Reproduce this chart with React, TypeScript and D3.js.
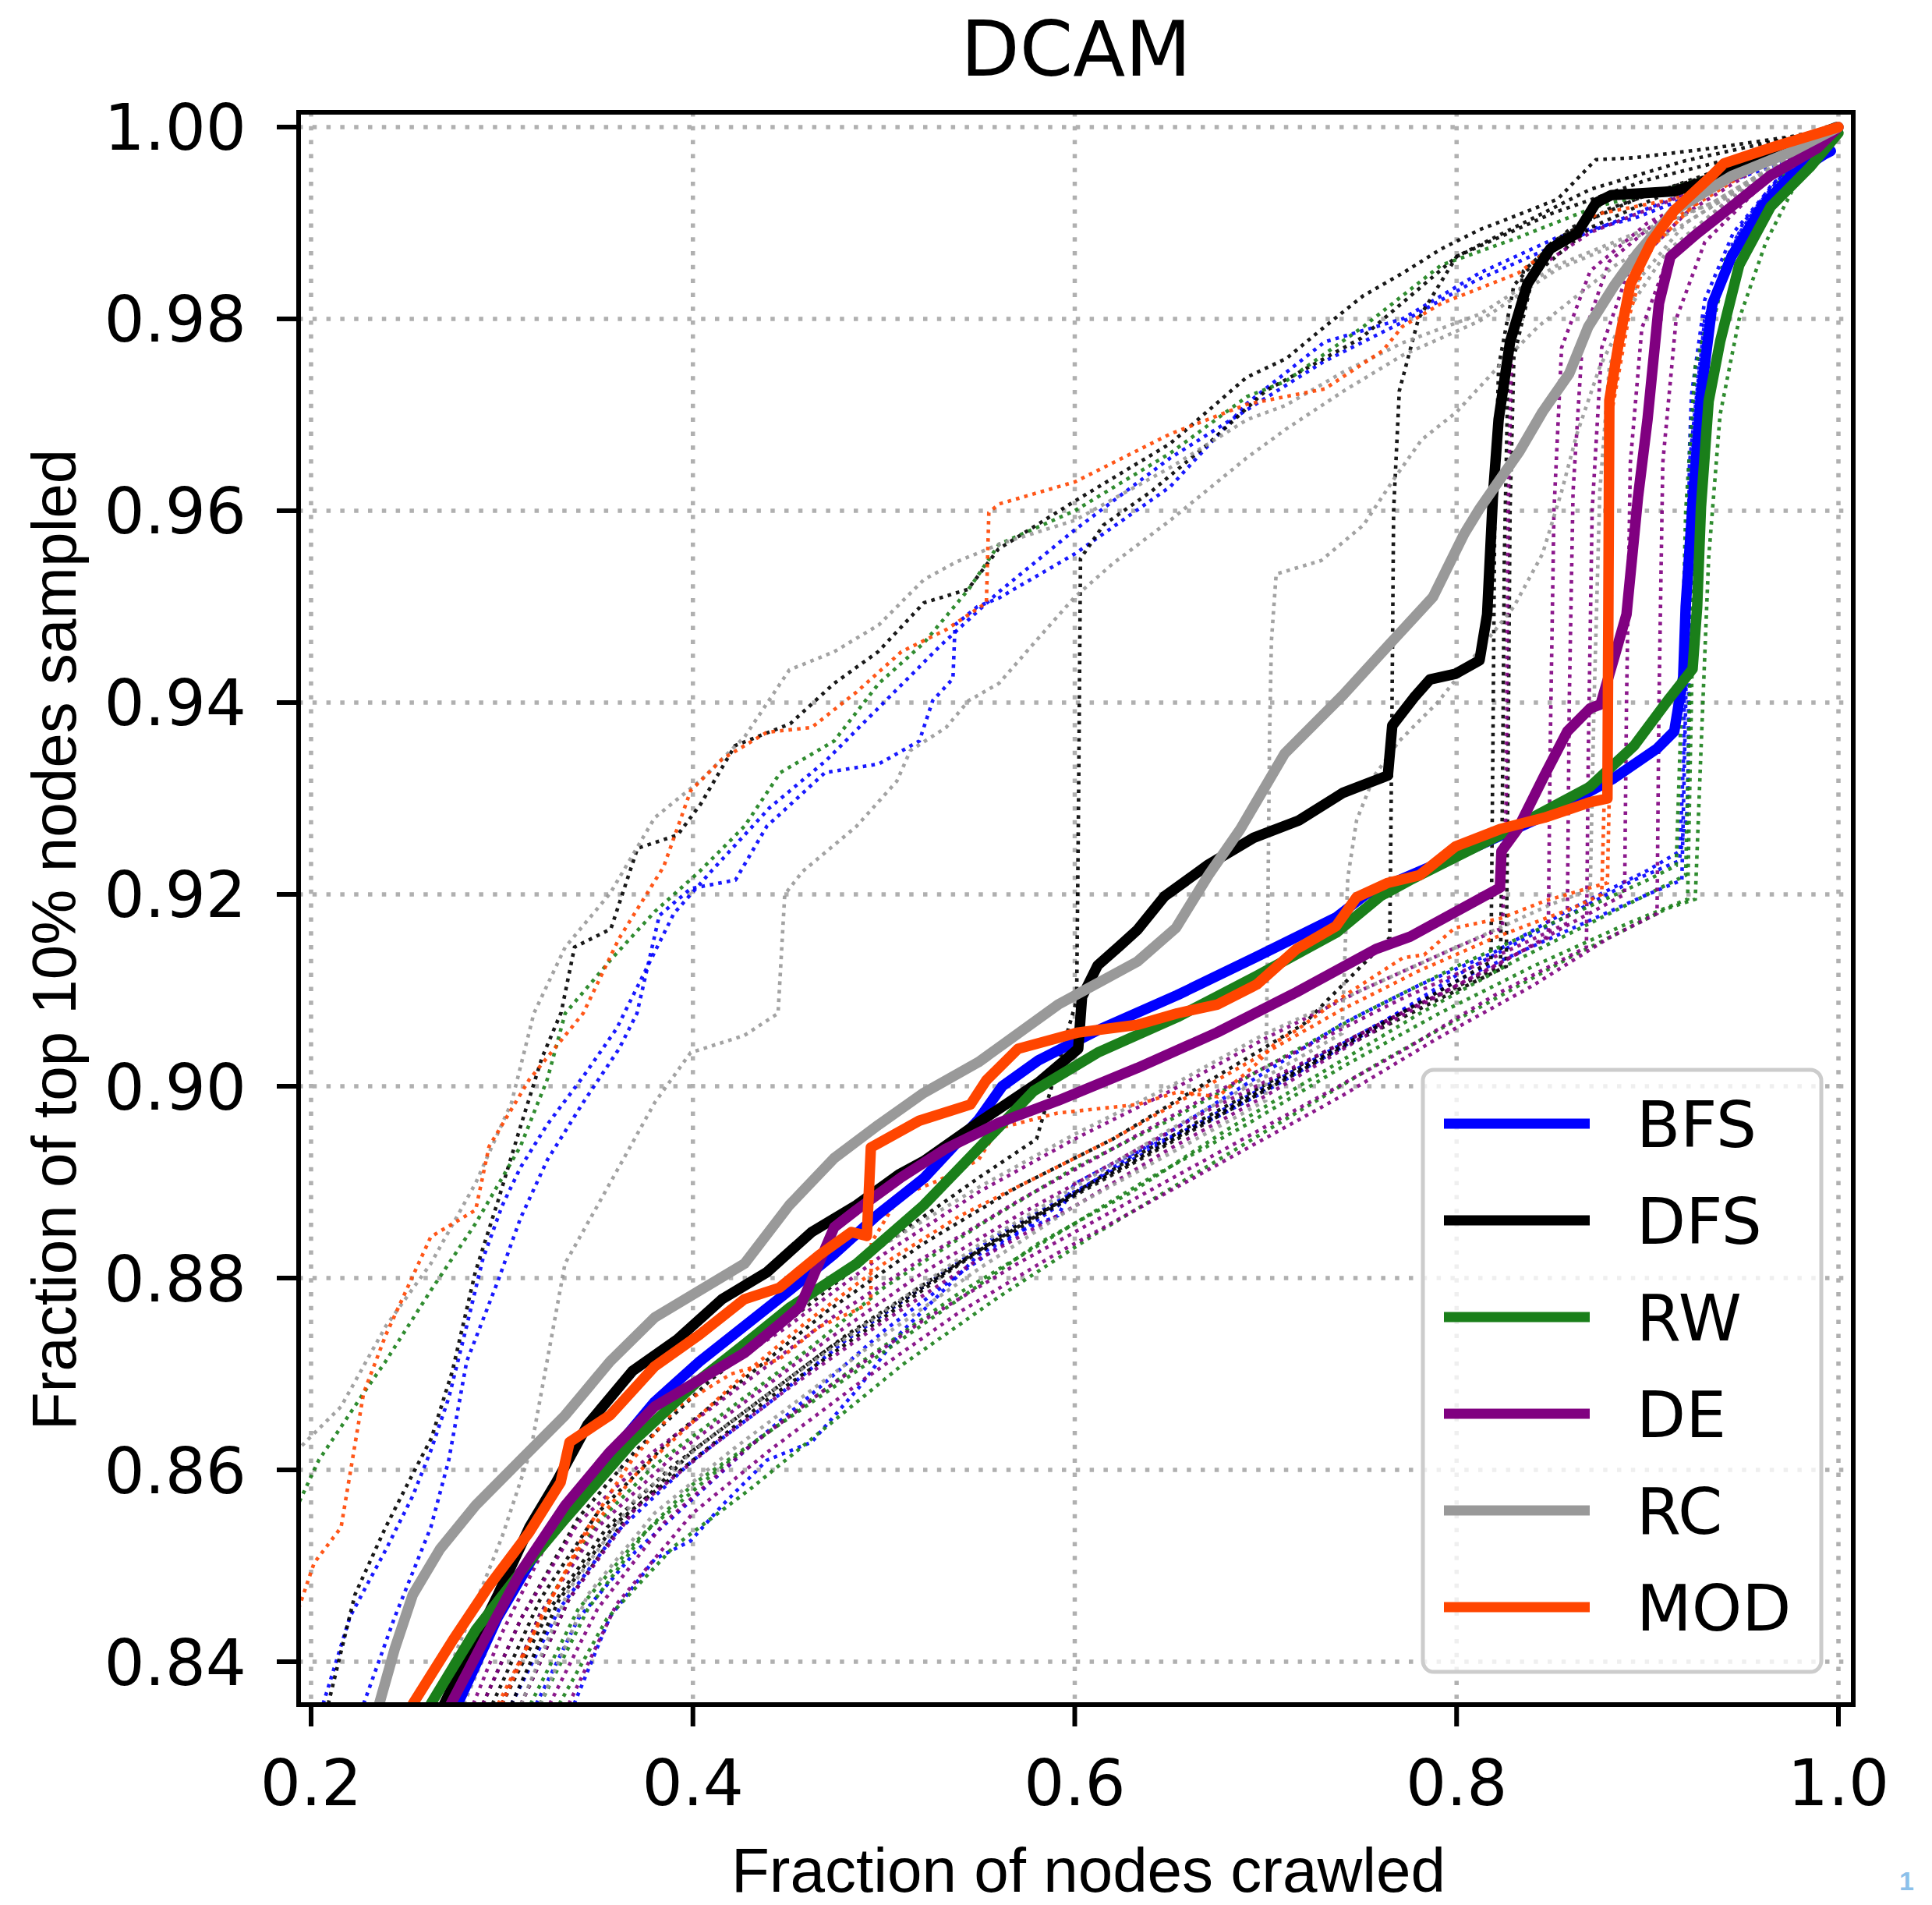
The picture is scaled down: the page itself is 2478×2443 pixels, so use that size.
import React, { useEffect } from 'react';
import * as d3 from 'd3';

type Pt = [number, number];

// ---------- axis / label data ----------
const xTicks: number[] = [0.2, 0.4, 0.6, 0.8, 1.0];
const xTickLabels: string[] = ['0.2', '0.4', '0.6', '0.8', '1.0'];
const yTicks: number[] = [0.84, 0.86, 0.88, 0.9, 0.92, 0.94, 0.96, 0.98, 1.0];
const yTickLabels: string[] = ['0.84', '0.86', '0.88', '0.90', '0.92', '0.94', '0.96', '0.98', '1.00'];
const methods: string[] = ['BFS', 'DFS', 'RW', 'DE', 'RC', 'MOD'];
const methodColors: string[] = ['#0000ff', '#000000', '#1a7f1a', '#800080', '#999999', '#ff4500'];
const titleText = 'DCAM';
const xLabel = 'Fraction of nodes crawled';
const yLabel = 'Fraction of top 10% nodes sampled';

// ---------- mean (thick) curves ----------
const bfsMain: Pt[] = [[0.2768,0.8356],[0.2979,0.8447],[0.3214,0.8526],[0.3448,0.8587],[0.38,0.8671],[0.4035,0.8713],[0.427,0.875],[0.4505,0.8787],[0.474,0.8825],[0.4974,0.8867],[0.5209,0.8904],[0.5495,0.8965],[0.5620,0.9000],[0.581,0.9027],[0.6116,0.9058],[0.6537,0.9095],[0.6953,0.9135],[0.7369,0.9176],[0.7525,0.9200],[0.7994,0.924],[0.846,0.9282],[0.8815,0.932],[0.905,0.9352],[0.914,0.937],[0.9187,0.9427],[0.920,0.95],[0.9235,0.9604],[0.928,0.972],[0.934,0.9816],[0.944,0.9865],[0.96,0.9917],[0.975,0.9949],[0.993,0.9972],[0.996,0.9975]];
const dfsMain: Pt[] = [[0.2697,0.8356],[0.2862,0.8423],[0.2979,0.847],[0.3143,0.854],[0.3284,0.8587],[0.3448,0.8647],[0.3683,0.8703],[0.3918,0.8736],[0.4153,0.8778],[0.4387,0.8806],[0.4622,0.8848],[0.4857,0.8876],[0.5079,0.8908],[0.5209,0.8922],[0.5495,0.8962],[0.581,0.9004],[0.6018,0.9039],[0.6038,0.9093],[0.612,0.9126],[0.6234,0.9146],[0.6328,0.9163],[0.647,0.9198],[0.670,0.9231],[0.6937,0.9259],[0.7173,0.9277],[0.7406,0.9306],[0.764,0.9324],[0.7663,0.9376],[0.7776,0.9405],[0.786,0.9424],[0.7994,0.943],[0.812,0.9444],[0.816,0.9492],[0.819,0.9614],[0.822,0.9695],[0.828,0.9776],[0.837,0.9836],[0.849,0.9873],[0.863,0.9889],[0.873,0.9921],[0.881,0.9929],[0.914,0.9933],[0.930,0.9943],[0.944,0.9958],[0.999,1.0]];
const rwMain: Pt[] = [[0.2627,0.8356],[0.2862,0.8433],[0.3096,0.8493],[0.3331,0.8549],[0.3683,0.8629],[0.4035,0.8694],[0.427,0.8731],[0.4505,0.8769],[0.4857,0.8815],[0.5209,0.8876],[0.5495,0.8935],[0.5785,0.8995],[0.612,0.9035],[0.6537,0.9072],[0.6953,0.9115],[0.7369,0.916],[0.7600,0.9198],[0.7757,0.9215],[0.8227,0.9262],[0.8697,0.9312],[0.893,0.9355],[0.9117,0.9405],[0.9236,0.9435],[0.926,0.950],[0.928,0.9604],[0.932,0.9714],[0.938,0.9776],[0.948,0.9856],[0.9645,0.9917],[0.985,0.9958],[1.0,0.9994]];
const deMain: Pt[] = [[0.2732,0.8356],[0.2908,0.8423],[0.3096,0.8493],[0.3331,0.8563],[0.3566,0.8619],[0.38,0.8666],[0.4035,0.8694],[0.427,0.8722],[0.4454,0.8752],[0.456,0.877],[0.462,0.8797],[0.474,0.8853],[0.4857,0.8871],[0.5091,0.8905],[0.5326,0.8935],[0.5603,0.8962],[0.5912,0.8985],[0.6328,0.9019],[0.6745,0.9056],[0.7161,0.9098],[0.7577,0.9143],[0.7757,0.9156],[0.8227,0.9207],[0.8235,0.9245],[0.832,0.9268],[0.846,0.9324],[0.858,0.937],[0.870,0.9394],[0.8754,0.9398],[0.883,0.945],[0.889,0.9492],[0.895,0.9614],[0.900,0.9695],[0.906,0.9816],[0.912,0.9865],[0.926,0.9889],[0.944,0.9917],[0.964,0.9949],[0.989,0.9978],[1.0,1.0]];
const rcMain: Pt[] = [[0.2357,0.8356],[0.2439,0.8414],[0.2533,0.847],[0.2674,0.8517],[0.2862,0.8563],[0.3096,0.861],[0.3331,0.8657],[0.3566,0.8713],[0.38,0.8759],[0.4035,0.8787],[0.427,0.8815],[0.4505,0.8876],[0.474,0.8925],[0.4974,0.896],[0.5209,0.8993],[0.5495,0.9025],[0.5912,0.9085],[0.6328,0.913],[0.6530,0.9165],[0.670,0.922],[0.6867,0.9268],[0.710,0.9347],[0.7406,0.9408],[0.7663,0.9464],[0.7876,0.951],[0.804,0.9576],[0.812,0.9602],[0.833,0.9662],[0.845,0.9703],[0.859,0.9743],[0.869,0.9792],[0.883,0.9836],[0.895,0.9869],[0.914,0.9913],[0.944,0.9949],[0.975,0.9974],[1.0,1.0]];
const modMain: Pt[] = [[0.2533,0.8356],[0.2744,0.8423],[0.2932,0.8479],[0.3143,0.8535],[0.3307,0.8587],[0.3354,0.8629],[0.3566,0.8657],[0.38,0.8708],[0.4035,0.8741],[0.427,0.8778],[0.4454,0.879],[0.4662,0.8824],[0.483,0.8848],[0.4911,0.8844],[0.4932,0.8936],[0.5185,0.8964],[0.5454,0.8981],[0.5536,0.9006],[0.5703,0.9039],[0.6018,0.9056],[0.6328,0.9064],[0.6537,0.9076],[0.6745,0.9085],[0.6953,0.9106],[0.7161,0.9143],[0.7369,0.9167],[0.7476,0.9197],[0.764,0.9212],[0.7806,0.922],[0.7994,0.925],[0.8227,0.9268],[0.846,0.928],[0.8697,0.9296],[0.879,0.930],[0.8795,0.95],[0.880,0.9715],[0.885,0.9776],[0.891,0.9836],[0.902,0.988],[0.914,0.9913],[0.934,0.995],[0.94,0.9962],[0.964,0.9978],[1.0,1.0]];

// ---------- individual (dotted) runs ----------
const bfsRuns: Pt[][] = [
  [[0.2275,0.8356],[0.2439,0.8447],[0.2627,0.854],[0.2721,0.861],[0.2815,0.8713],[0.2979,0.8797],[0.3096,0.8862],[0.3237,0.8923],[0.3425,0.8983],[0.3613,0.9039],[0.3707,0.9076],[0.3824,0.9178],[0.3988,0.9206],[0.4223,0.9215],[0.4387,0.9271],[0.4692,0.9327],[0.4974,0.9336],[0.5186,0.936],[0.5256,0.9402],[0.5362,0.9425],[0.5373,0.9481],[0.549,0.95],[0.5603,0.9509],[0.60,0.9555],[0.65,0.9625],[0.6903,0.9712],[0.7309,0.9776],[0.7716,0.98],[0.8122,0.9848],[0.8528,0.9885],[0.8934,0.9905],[0.934,0.9937],[0.9747,0.9966],[1,1]],
  [[0.2063,0.8356],[0.2204,0.8447],[0.2392,0.8517],[0.2533,0.8573],[0.2627,0.862],[0.2721,0.8675],[0.2815,0.875],[0.29,0.882],[0.30,0.8875],[0.3096,0.8915],[0.3237,0.896],[0.3425,0.901],[0.36,0.906],[0.375,0.912],[0.39,0.918],[0.41,0.9225],[0.44,0.929],[0.47,0.934],[0.50,0.94],[0.53,0.946],[0.56,0.9515],[0.6,0.958],[0.65,0.9655],[0.69,0.9705],[0.73,0.9755],[0.77,0.9795],[0.81,0.984],[0.85,0.9875],[0.9,0.9915],[0.95,0.9955],[1,1]],
  [[0.305,0.8356],[0.33,0.8455],[0.36,0.8535],[0.40,0.861],[0.44,0.867],[0.48,0.8735],[0.52,0.879],[0.56,0.8845],[0.60,0.889],[0.65,0.8945],[0.70,0.90],[0.75,0.9055],[0.80,0.911],[0.85,0.9155],[0.90,0.920],[0.918,0.9215],[0.92,0.94],[0.922,0.965],[0.93,0.98],[0.95,0.99],[0.975,0.996],[1,1]],
  [[0.3378,0.8356],[0.3566,0.8447],[0.38,0.8507],[0.3988,0.8526],[0.4153,0.8563],[0.4387,0.861],[0.4622,0.8629],[0.487,0.8686],[0.5079,0.8741],[0.5287,0.8782],[0.5495,0.8824],[0.5703,0.8848],[0.5912,0.8865],[0.5997,0.8898],[0.612,0.8911],[0.6328,0.8932],[0.6745,0.8968],[0.70,0.8995],[0.7525,0.9055],[0.7994,0.9115],[0.846,0.9165],[0.893,0.9215],[0.9166,0.9235],[0.921,0.929],[0.922,0.95],[0.924,0.97],[0.93,0.98],[0.945,0.988],[0.965,0.994],[0.99,0.998],[1,1]],
  [[0.318,0.8356],[0.34,0.8445],[0.37,0.8515],[0.40,0.857],[0.43,0.8625],[0.46,0.8675],[0.50,0.8745],[0.54,0.8805],[0.58,0.886],[0.62,0.8915],[0.66,0.8965],[0.70,0.9015],[0.74,0.9065],[0.78,0.9105],[0.82,0.914],[0.86,0.9185],[0.90,0.9225],[0.917,0.9245],[0.919,0.935],[0.92,0.955],[0.923,0.972],[0.93,0.982],[0.945,0.989],[0.97,0.995],[1,1]],
];
const dfsRuns: Pt[][] = [
  [[0.209,0.8356],[0.223,0.847],[0.239,0.854],[0.251,0.8587],[0.263,0.8633],[0.274,0.8703],[0.286,0.8806],[0.298,0.8881],[0.31,0.896],[0.321,0.903],[0.331,0.9077],[0.338,0.9145],[0.357,0.9164],[0.371,0.9248],[0.392,0.9262],[0.404,0.9294],[0.422,0.9355],[0.451,0.9378],[0.474,0.942],[0.497,0.9453],[0.521,0.9504],[0.544,0.9518],[0.56,0.956],[0.6,0.961],[0.65,0.967],[0.69,0.9739],[0.711,0.9759],[0.731,0.9792],[0.751,0.9824],[0.772,0.9848],[0.792,0.9873],[0.812,0.9893],[0.833,0.9909],[0.853,0.9925],[0.869,0.9958],[0.873,0.9966],[0.893,0.9968],[0.934,0.9978],[0.975,0.999],[1,1]],
  [[0.29,0.8356],[0.31,0.8445],[0.34,0.855],[0.37,0.862],[0.41,0.8695],[0.45,0.8755],[0.50,0.8835],[0.55,0.8905],[0.58,0.8945],[0.601,0.909],[0.602,0.93],[0.603,0.955],[0.615,0.9585],[0.64,0.962],[0.67,0.967],[0.70,0.9725],[0.75,0.978],[0.80,0.9865],[0.85,0.991],[0.90,0.9945],[0.95,0.997],[1,1]],
  [[0.295,0.8356],[0.32,0.8465],[0.35,0.8555],[0.39,0.8635],[0.43,0.870],[0.47,0.8765],[0.52,0.8835],[0.57,0.8895],[0.62,0.8945],[0.67,0.9005],[0.72,0.9065],[0.765,0.9155],[0.766,0.935],[0.767,0.96],[0.77,0.9725],[0.78,0.98],[0.80,0.9865],[0.83,0.9895],[0.87,0.9935],[0.92,0.9965],[1,1]],
  [[0.30,0.8356],[0.325,0.8455],[0.355,0.854],[0.39,0.8605],[0.43,0.8665],[0.47,0.8725],[0.52,0.879],[0.57,0.8855],[0.62,0.891],[0.67,0.8965],[0.72,0.902],[0.77,0.9075],[0.818,0.913],[0.819,0.935],[0.82,0.96],[0.822,0.975],[0.83,0.9835],[0.85,0.988],[0.88,0.9915],[0.93,0.995],[1,1]],
  [[0.31,0.8356],[0.335,0.8465],[0.365,0.855],[0.40,0.862],[0.44,0.868],[0.48,0.874],[0.53,0.8805],[0.58,0.8865],[0.63,0.8925],[0.68,0.898],[0.73,0.9035],[0.78,0.9085],[0.823,0.9125],[0.824,0.93],[0.825,0.955],[0.827,0.975],[0.835,0.985],[0.86,0.9895],[0.90,0.993],[0.95,0.996],[1,1]],
  [[0.305,0.8356],[0.33,0.8465],[0.36,0.8545],[0.40,0.861],[0.44,0.8675],[0.49,0.8745],[0.54,0.8815],[0.59,0.8875],[0.64,0.893],[0.69,0.8985],[0.74,0.904],[0.79,0.909],[0.826,0.9125],[0.827,0.935],[0.828,0.96],[0.83,0.976],[0.84,0.9845],[0.87,0.9895],[0.92,0.994],[1,1]],
];
const rwRuns: Pt[][] = [
  [[0.192,0.8559],[0.204,0.861],[0.2275,0.868],[0.239,0.8713],[0.2627,0.8787],[0.2862,0.8857],[0.3096,0.8937],[0.3237,0.9007],[0.3331,0.9076],[0.3566,0.9131],[0.38,0.9182],[0.4035,0.9224],[0.427,0.9271],[0.4458,0.9327],[0.474,0.936],[0.4974,0.942],[0.5209,0.9462],[0.5444,0.9518],[0.5603,0.9565],[0.6,0.96],[0.65,0.966],[0.6903,0.9719],[0.7106,0.9735],[0.7512,0.9792],[0.7919,0.9856],[0.8325,0.9885],[0.8731,0.9917],[0.9138,0.9937],[0.9544,0.9962],[1,1]],
  [[0.30,0.8356],[0.32,0.845],[0.35,0.8545],[0.38,0.8605],[0.42,0.8665],[0.46,0.8725],[0.50,0.879],[0.55,0.8855],[0.60,0.8915],[0.65,0.8965],[0.70,0.902],[0.75,0.9075],[0.80,0.9125],[0.85,0.917],[0.90,0.9215],[0.915,0.923],[0.917,0.935],[0.92,0.96],[0.925,0.975],[0.94,0.986],[0.96,0.992],[0.98,0.997],[1,1]],
  [[0.315,0.8356],[0.34,0.8455],[0.37,0.8525],[0.40,0.8585],[0.44,0.864],[0.48,0.8695],[0.53,0.8765],[0.58,0.8835],[0.63,0.889],[0.68,0.8955],[0.73,0.9015],[0.78,0.9075],[0.83,0.913],[0.88,0.918],[0.92,0.922],[0.922,0.94],[0.924,0.965],[0.93,0.978],[0.945,0.987],[0.97,0.994],[1,1]],
  [[0.33,0.8356],[0.355,0.8445],[0.39,0.852],[0.43,0.858],[0.47,0.8645],[0.51,0.871],[0.56,0.878],[0.61,0.8845],[0.66,0.8905],[0.71,0.8965],[0.76,0.9025],[0.81,0.908],[0.86,0.9135],[0.91,0.9185],[0.925,0.9195],[0.928,0.935],[0.932,0.955],[0.938,0.97],[0.948,0.98],[0.962,0.988],[0.98,0.995],[1,1]],
  [[0.32,0.8356],[0.345,0.8455],[0.375,0.8535],[0.41,0.8595],[0.45,0.8655],[0.49,0.8715],[0.54,0.8785],[0.59,0.8845],[0.64,0.8905],[0.69,0.896],[0.74,0.902],[0.79,0.9075],[0.84,0.9125],[0.89,0.917],[0.921,0.9195],[0.923,0.94],[0.925,0.962],[0.93,0.976],[0.942,0.986],[0.965,0.993],[1,1]],
];
const deRuns: Pt[][] = [
  [[0.285,0.8356],[0.30,0.843],[0.33,0.855],[0.36,0.8625],[0.40,0.8685],[0.45,0.875],[0.50,0.8825],[0.55,0.889],[0.60,0.8945],[0.65,0.8995],[0.70,0.905],[0.75,0.910],[0.80,0.9145],[0.824,0.9165],[0.826,0.93],[0.827,0.96],[0.829,0.978],[0.84,0.985],[0.87,0.989],[0.92,0.993],[0.96,0.996],[1,1]],
  [[0.31,0.8356],[0.335,0.8465],[0.37,0.856],[0.41,0.8625],[0.45,0.8685],[0.50,0.8755],[0.55,0.882],[0.60,0.8875],[0.65,0.8935],[0.70,0.899],[0.75,0.905],[0.80,0.9105],[0.848,0.9155],[0.849,0.935],[0.851,0.96],[0.855,0.977],[0.87,0.985],[0.90,0.99],[0.95,0.995],[1,1]],
  [[0.325,0.8356],[0.35,0.8455],[0.385,0.8545],[0.43,0.8625],[0.47,0.8685],[0.52,0.8755],[0.57,0.8815],[0.62,0.887],[0.67,0.8925],[0.72,0.898],[0.77,0.9035],[0.82,0.9095],[0.868,0.9145],[0.869,0.935],[0.871,0.96],[0.876,0.977],[0.89,0.985],[0.92,0.991],[0.96,0.996],[1,1]],
  [[0.335,0.8356],[0.36,0.846],[0.40,0.8555],[0.44,0.862],[0.49,0.8695],[0.54,0.8765],[0.59,0.8825],[0.64,0.888],[0.69,0.8935],[0.74,0.899],[0.79,0.905],[0.84,0.9105],[0.88,0.9155],[0.905,0.918],[0.906,0.94],[0.908,0.965],[0.915,0.98],[0.93,0.988],[0.96,0.994],[1,1]],
  [[0.30,0.8356],[0.32,0.845],[0.35,0.854],[0.39,0.8615],[0.43,0.8675],[0.47,0.8735],[0.52,0.8805],[0.57,0.8865],[0.62,0.892],[0.67,0.8975],[0.72,0.9025],[0.77,0.9075],[0.82,0.9125],[0.86,0.917],[0.888,0.92],[0.889,0.94],[0.891,0.965],[0.897,0.979],[0.91,0.986],[0.94,0.992],[0.97,0.996],[1,1]],
  [[0.29,0.8356],[0.31,0.8445],[0.34,0.8545],[0.38,0.862],[0.42,0.868],[0.47,0.8755],[0.52,0.882],[0.57,0.888],[0.62,0.8935],[0.67,0.899],[0.72,0.904],[0.77,0.909],[0.82,0.9135],[0.858,0.917],[0.859,0.94],[0.861,0.962],[0.866,0.978],[0.88,0.986],[0.91,0.991],[0.95,0.995],[1,1]],
];
const rcRuns: Pt[][] = [
  [[0.192,0.8619],[0.2157,0.8666],[0.2392,0.875],[0.2627,0.8815],[0.2862,0.8899],[0.305,0.8983],[0.3167,0.9076],[0.3331,0.9145],[0.3566,0.9201],[0.38,0.928],[0.4035,0.9318],[0.427,0.9364],[0.4505,0.9434],[0.474,0.9453],[0.4974,0.9481],[0.5209,0.9528],[0.5373,0.9546],[0.5603,0.9565],[0.6,0.959],[0.65,0.9645],[0.6903,0.9695],[0.7106,0.971],[0.741,0.9745],[0.7716,0.9775],[0.8122,0.9805],[0.8528,0.9856],[0.8934,0.9889],[0.934,0.9921],[1,1]],
  [[0.265,0.8356],[0.28,0.843],[0.30,0.853],[0.315,0.862],[0.333,0.8815],[0.3566,0.8899],[0.38,0.8983],[0.3988,0.9035],[0.427,0.9053],[0.4446,0.9076],[0.4481,0.92],[0.4575,0.9224],[0.4857,0.9271],[0.5068,0.9318],[0.5139,0.935],[0.5326,0.9374],[0.5444,0.9402],[0.5603,0.942],[0.58,0.9465],[0.60,0.951],[0.62,0.9545],[0.65,0.959],[0.69,0.9655],[0.7106,0.9685],[0.741,0.9725],[0.7716,0.9762],[0.8122,0.9798],[0.8528,0.9852],[0.8934,0.9885],[0.934,0.9921],[1,1]],
  [[0.32,0.8356],[0.345,0.847],[0.38,0.8555],[0.42,0.862],[0.46,0.868],[0.50,0.874],[0.55,0.881],[0.60,0.8875],[0.65,0.893],[0.70,0.8985],[0.701,0.915],[0.702,0.9361],[0.703,0.9464],[0.7055,0.9534],[0.729,0.9548],[0.7512,0.9585],[0.7675,0.9634],[0.7817,0.9674],[0.80,0.9703],[0.8223,0.9751],[0.8427,0.9792],[0.863,0.9824],[0.8833,0.9856],[0.92,0.990],[0.96,0.995],[1,1]],
  [[0.31,0.8356],[0.335,0.8475],[0.37,0.857],[0.41,0.8635],[0.45,0.8695],[0.50,0.8765],[0.55,0.8835],[0.60,0.8895],[0.65,0.8955],[0.70,0.901],[0.74,0.9055],[0.743,0.9217],[0.7476,0.9277],[0.757,0.9324],[0.77,0.936],[0.79,0.940],[0.81,0.945],[0.83,0.950],[0.845,0.9555],[0.855,0.962],[0.863,0.968],[0.875,0.975],[0.89,0.981],[0.91,0.987],[0.94,0.992],[0.97,0.996],[1,1]],
  [[0.28,0.8356],[0.30,0.845],[0.33,0.856],[0.37,0.864],[0.41,0.870],[0.45,0.876],[0.50,0.8835],[0.55,0.8895],[0.60,0.895],[0.65,0.900],[0.70,0.9055],[0.75,0.910],[0.80,0.9145],[0.85,0.919],[0.87,0.9205],[0.872,0.94],[0.875,0.962],[0.88,0.975],[0.895,0.984],[0.92,0.990],[0.96,0.995],[1,1]],
];
const modRuns: Pt[][] = [
  [[0.192,0.8447],[0.2016,0.8503],[0.2157,0.854],[0.2275,0.868],[0.2392,0.8741],[0.2627,0.8843],[0.2862,0.8871],[0.2932,0.8937],[0.3143,0.9007],[0.3425,0.9076],[0.3613,0.9154],[0.3847,0.9229],[0.3988,0.9308],[0.4153,0.9341],[0.4387,0.9369],[0.4622,0.9374],[0.4857,0.9411],[0.5092,0.9453],[0.5326,0.9476],[0.5537,0.9504],[0.555,0.9598],[0.5603,0.9607],[0.6,0.963],[0.65,0.968],[0.6903,0.9711],[0.7309,0.9727],[0.7614,0.9767],[0.7716,0.9792],[0.7919,0.9816],[0.8325,0.9848],[0.8731,0.9909],[0.9138,0.9925],[1,1]],
  [[0.298,0.8356],[0.321,0.8447],[0.345,0.854],[0.368,0.861],[0.392,0.8666],[0.42,0.870],[0.445,0.8715],[0.466,0.8749],[0.487,0.8768],[0.4932,0.8775],[0.4935,0.8837],[0.508,0.8885],[0.529,0.8902],[0.5495,0.8923],[0.56,0.8956],[0.591,0.8972],[0.633,0.8981],[0.654,0.8994],[0.675,0.8989],[0.695,0.9023],[0.706,0.9047],[0.716,0.9058],[0.737,0.9089],[0.772,0.9134],[0.783,0.9137],[0.799,0.9165],[0.823,0.9175],[0.846,0.9193],[0.87,0.9207],[0.879,0.9212],[0.88,0.9306],[0.881,0.97],[0.89,0.98],[0.90,0.987],[0.93,0.993],[1,1]],
  [[0.30,0.8356],[0.32,0.8445],[0.345,0.8535],[0.37,0.8595],[0.40,0.865],[0.43,0.8705],[0.46,0.8755],[0.50,0.8815],[0.54,0.8865],[0.58,0.8905],[0.62,0.8945],[0.66,0.899],[0.70,0.9035],[0.74,0.908],[0.78,0.912],[0.82,0.9155],[0.86,0.9185],[0.876,0.92],[0.878,0.935],[0.879,0.96],[0.882,0.975],[0.89,0.983],[0.91,0.99],[0.95,0.995],[1,1]],
];

const mainSeries: Pt[][] = [bfsMain, dfsMain, rwMain, deMain, rcMain, modMain];
const runSeries: Pt[][][] = [bfsRuns, dfsRuns, rwRuns, deRuns, rcRuns, modRuns];

// ---------- layout ----------
const W = 2478;
const H = 2443;
const L = 383, R = 2377, T = 144, B = 2186;

export default function App() {
  useEffect(() => {
    document.body.style.margin = '0';
  }, []);

  const x = d3.scaleLinear().domain([0.19347, 1.00776]).range([L, R]);
  const y = d3.scaleLinear().domain([0.83553, 1.00154]).range([B, T]);
  const line = d3.line<Pt>().x((d) => x(d[0])).y((d) => y(d[1]));

  const tickFont = 'DejaVu Sans, sans-serif';
  const labelFont = 'Liberation Sans, Arial, sans-serif';

  const legendX = 1825, legendY = 1372, legendW = 511, legendH = 772;
  const legendRows = [1441, 1565, 1689, 1813, 1937, 2061];

  return (
    <svg width={W} height={H} viewBox={`0 0 ${W} ${H}`} style={{ position: 'absolute', left: 0, top: 0, background: '#fff' }}>
      <defs>
        <clipPath id="plotClip">
          <rect x={L} y={T} width={R - L} height={B - T} />
        </clipPath>
      </defs>
      <rect x={0} y={0} width={W} height={H} fill="#ffffff" />

      {/* grid */}
      <g stroke="#b0b0b0" strokeWidth={5.5} strokeDasharray="5.5 12.3">
        {xTicks.map((t) => (
          <line key={'gx' + t} x1={x(t)} x2={x(t)} y1={T} y2={B} />
        ))}
        {yTicks.map((t) => (
          <line key={'gy' + t} x1={L} x2={R} y1={y(t)} y2={y(t)} />
        ))}
      </g>

      {/* dotted runs */}
      <g clipPath="url(#plotClip)" fill="none">
        {runSeries.map((runs, i) =>
          runs.map((run, j) => (
            <path
              key={'run' + i + '_' + j}
              d={line(run) || ''}
              stroke={methodColors[i]}
              strokeWidth={4.6}
              strokeDasharray="4.6 6.4"
              strokeOpacity={0.9}
            />
          ))
        )}
      </g>

      {/* thick mean lines */}
      <g clipPath="url(#plotClip)" fill="none">
        {mainSeries.map((s, i) => (
          <path
            key={'main' + i}
            d={line(s) || ''}
            stroke={methodColors[i]}
            strokeWidth={13.5}
            strokeLinejoin="round"
            strokeLinecap="round"
          />
        ))}
      </g>

      {/* frame */}
      <rect x={L} y={T} width={R - L} height={B - T} fill="none" stroke="#000" strokeWidth={6} />

      {/* ticks */}
      <g stroke="#000" strokeWidth={6}>
        {xTicks.map((t) => (
          <line key={'tx' + t} x1={x(t)} x2={x(t)} y1={B} y2={B + 28} />
        ))}
        {yTicks.map((t) => (
          <line key={'ty' + t} x1={L - 28} x2={L} y1={y(t)} y2={y(t)} />
        ))}
      </g>

      {/* tick labels */}
      <g fontFamily={tickFont} fontSize={82} fill="#000">
        {xTicks.map((t, i) => (
          <text key={'lx' + t} x={x(t)} y={2315} textAnchor="middle">
            {xTickLabels[i]}
          </text>
        ))}
        {yTicks.map((t, i) => (
          <text key={'ly' + t} x={316} y={y(t)} dy="0.36em" textAnchor="end">
            {yTickLabels[i]}
          </text>
        ))}
      </g>

      {/* title */}
      <text x={1380} y={97} textAnchor="middle" fontFamily={tickFont} fontSize={98} fill="#000">
        {titleText}
      </text>

      {/* axis labels */}
      <text x={1396} y={2426} textAnchor="middle" fontFamily={labelFont} fontSize={80} fill="#000">
        {xLabel}
      </text>
      <text
        transform={`translate(97, 1205) rotate(-90)`}
        textAnchor="middle"
        fontFamily={labelFont}
        fontSize={80}
        fill="#000"
      >
        {yLabel}
      </text>

      {/* legend */}
      <rect
        x={legendX}
        y={legendY}
        width={legendW}
        height={legendH}
        rx={14}
        ry={14}
        fill="#ffffff"
        fillOpacity={0.8}
        stroke="#cccccc"
        strokeWidth={5}
      />
      {methods.map((m, i) => (
        <g key={'leg' + m}>
          <line x1={1852} x2={2039} y1={legendRows[i]} y2={legendRows[i]} stroke={methodColors[i]} strokeWidth={13} />
          <text x={2099} y={legendRows[i]} dy="0.36em" fontFamily={tickFont} fontSize={82} fill="#000">
            {m}
          </text>
        </g>
      ))}

      {/* small page mark in the corner */}
      <text x={2436} y={2424} fontFamily={labelFont} fontWeight="bold" fontSize={34} fill="#8cc0ea">
        1
      </text>
    </svg>
  );
}
